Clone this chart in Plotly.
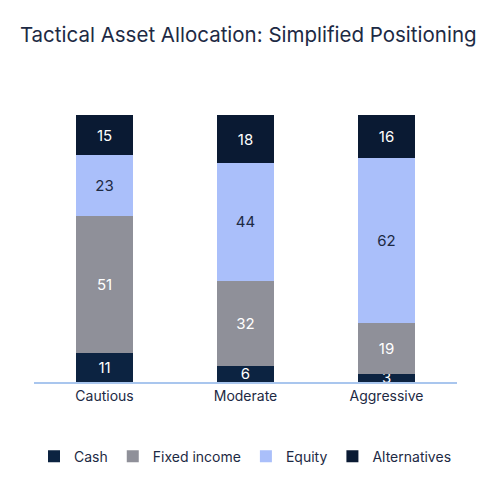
import plotly.graph_objects as go

## dados
perfis = ["Cautious", "Moderate", "Aggressive"]
cash = [11, 6, 3]
fixed_income = [51, 32, 19]
equity = [23, 44, 62]
alternatives = [15, 18, 16]

series = [
    ("Cash", cash, "#0c2341", "white"),
    ("Fixed income", fixed_income, "#8f9099", "white"),
    ("Equity", equity, "#aabffa", "#1d2a44"),
    ("Alternatives", alternatives, "#0a1a33", "white"),
]

fig = go.Figure()
for nome, valores, cor, cor_texto in series:
    fig.add_trace(go.Bar(x=perfis, y=valores, name=nome, marker_color=cor, marker_line_width=0,
                         text=valores, textposition="inside", insidetextanchor="middle",
                         textangle=0, constraintext="none",
                         textfont=dict(color=cor_texto, size=15), width=0.4))

fig.update_layout(
    barmode="stack", width=495, height=479,
    plot_bgcolor="white", paper_bgcolor="white",
    font=dict(family="Inter", color="#1d2a44", size=14),
    title=dict(text="Tactical Asset Allocation: Simplified Positioning", x=0.024, y=0.944,
               xanchor="left", yanchor="middle", font=dict(size=20.5, color="#1d2a44")),
    margin=dict(l=26, r=46, t=107, b=105),
    uniformtext=dict(minsize=8, mode="show"),
    xaxis=dict(showline=True, linecolor="#a9c6ee", linewidth=1.5, ticks="", tickfont=dict(size=14)),
    yaxis=dict(visible=False, range=[0, 100]),
    legend=dict(orientation="h", x=0.5, xanchor="center", y=-0.28, yanchor="middle",
                font=dict(size=14), traceorder="normal"),
)
fig.write_html("out.html")
